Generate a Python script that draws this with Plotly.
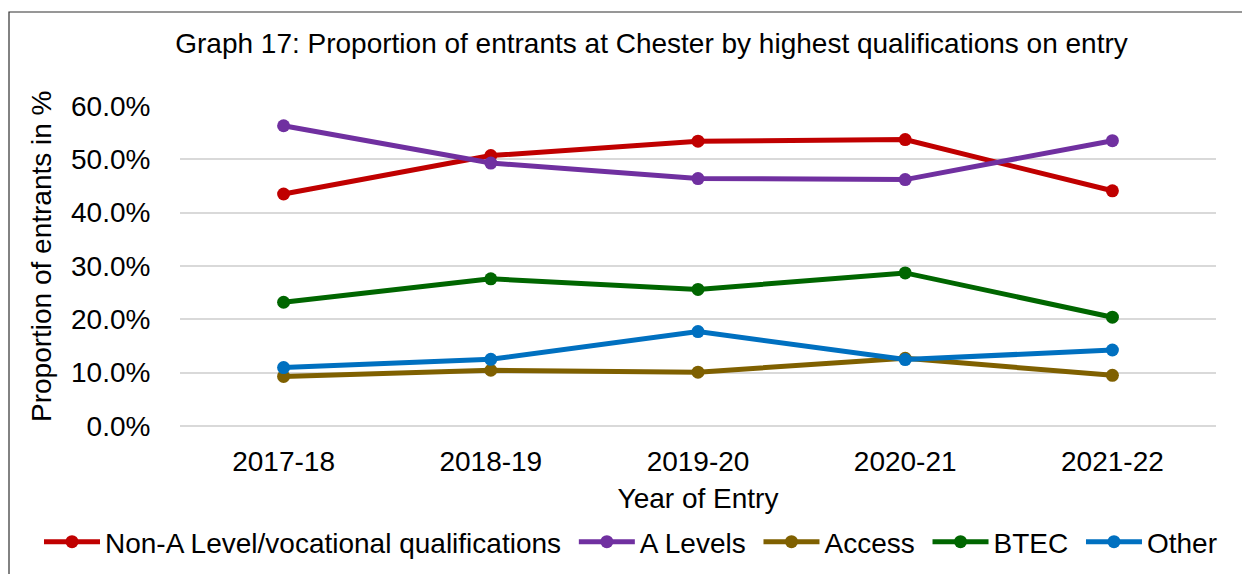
import plotly.graph_objects as go

# Entry years and share of entrants per highest qualification (fractions)
years = ["2017-18", "2018-19", "2019-20", "2020-21", "2021-22"]
non_a_level = [0.435, 0.507, 0.534, 0.537, 0.441]
a_levels = [0.563, 0.493, 0.464, 0.462, 0.535]
access = [0.093, 0.1045, 0.101, 0.127, 0.095]
btec = [0.232, 0.276, 0.256, 0.287, 0.204]
other = [0.1095, 0.125, 0.177, 0.1245, 0.1425]

NBSP = "\u00a0"  # keeps a little extra room between legend entries
series = [
    ("Non-A Level/vocational qualifications" + NBSP, non_a_level, "#C00000"),
    ("A Levels" + NBSP, a_levels, "#7030A0"),
    ("Access" + NBSP, access, "#7F6000"),
    ("BTEC" + NBSP, btec, "#006600"),
    ("Other", other, "#0070C0"),
]

FONT = "Liberation Sans, Arial, sans-serif"
FS = 28
W, H = 1242, 574
L, R, T, B = 180, 26, 106, 148
pw, ph = W - L - R, H - T - B


def px_x(px):
    """Pixel column -> paper x."""
    return (px - L) / pw


def px_y(py):
    """Pixel row -> paper y."""
    return (H - B - py) / ph


fig = go.Figure()
for name, vals, color in series:
    fig.add_trace(go.Scatter(
        x=years, y=vals, name=name, mode="lines+markers",
        line=dict(color=color, width=5),
        marker=dict(color=color, size=13),
    ))

fig.update_layout(
    width=W, height=H,
    margin=dict(l=L, r=R, t=T, b=B, pad=0, autoexpand=False),
    paper_bgcolor="white", plot_bgcolor="white",
    font=dict(family=FONT, size=FS, color="#000000"),
    title=dict(
        text="Graph 17: Proportion of entrants at Chester by highest qualifications on entry",
        x=651.5 / W, xref="container", xanchor="center",
        y=1 - 43 / H, yref="container", yanchor="middle",
        font=dict(size=FS, family=FONT, color="#000000"),
    ),
    showlegend=True,
    legend=dict(
        orientation="h", xref="paper", yref="paper",
        x=px_x(39), xanchor="left",
        y=px_y(542), yanchor="middle",
        font=dict(size=FS, family=FONT),
        itemwidth=56, tracegroupgap=0,
        bgcolor="rgba(0,0,0,0)",
    ),
    xaxis=dict(
        type="category", range=[-0.5, 4.5],
        showgrid=False, zeroline=False, showline=False,
        ticks="outside", ticklen=10, tickcolor="rgba(0,0,0,0)",
        tickfont=dict(size=FS),
        title=dict(text="Year of Entry", font=dict(size=FS), standoff=12),
    ),
    yaxis=dict(
        range=[0, 0.6], dtick=0.1, tick0=0,
        tickformat=".1%",
        showgrid=True, gridcolor="#D9D9D9", gridwidth=1.5,
        zeroline=True, zerolinecolor="#D9D9D9", zerolinewidth=1.5,
        showline=False,
        ticks="outside", ticklen=23, tickcolor="rgba(0,0,0,0)",
        tickfont=dict(size=FS),
    ),
)

# Vertical axis caption
fig.add_annotation(
    text="Proportion of entrants in %", textangle=-90,
    xref="paper", yref="paper", x=px_x(41), y=px_y(256),
    xanchor="center", yanchor="middle", showarrow=False,
    font=dict(size=FS, family=FONT, color="#000000"),
)

# Chart-area frame
fig.add_shape(
    type="rect", xref="paper", yref="paper",
    x0=px_x(9), x1=px_x(1260),
    y0=px_y(620), y1=px_y(12),
    line=dict(color="#303030", width=1.2), fillcolor="rgba(0,0,0,0)",
    layer="below",
)

fig.write_html("out.html")
